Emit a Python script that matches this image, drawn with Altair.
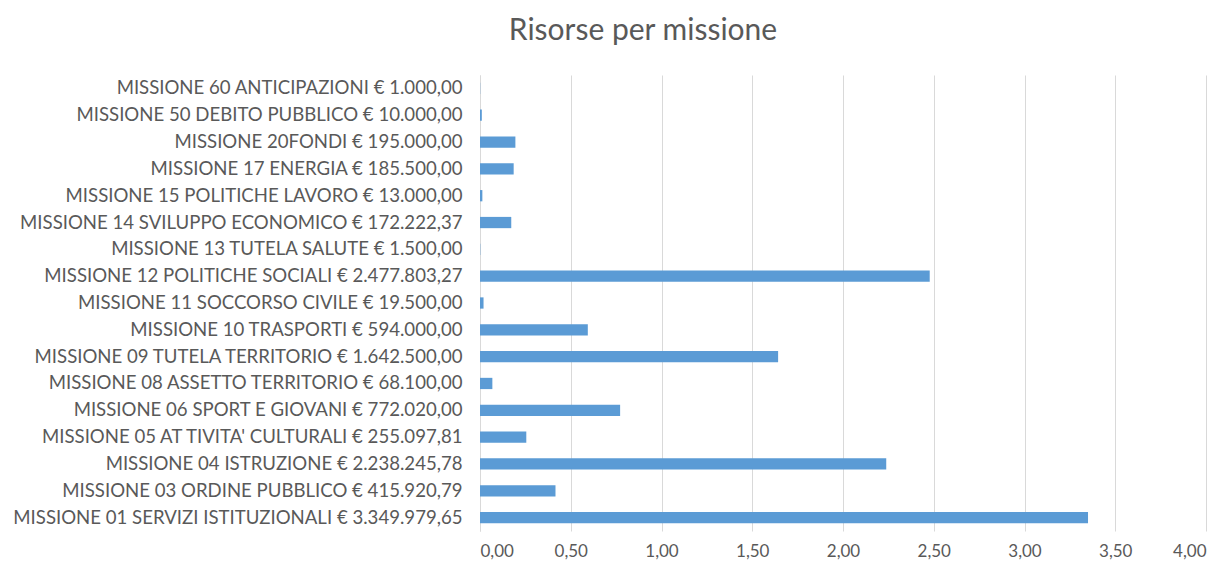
import altair as alt
import pandas as pd

categories = [
    "MISSIONE 60 ANTICIPAZIONI  € 1.000,00",
    "MISSIONE 50 DEBITO PUBBLICO € 10.000,00",
    "MISSIONE 20FONDI € 195.000,00",
    "MISSIONE 17 ENERGIA € 185.500,00",
    "MISSIONE 15 POLITICHE LAVORO € 13.000,00",
    "MISSIONE 14 SVILUPPO ECONOMICO € 172.222,37",
    "MISSIONE 13 TUTELA SALUTE € 1.500,00",
    "MISSIONE 12 POLITICHE SOCIALI € 2.477.803,27",
    "MISSIONE 11 SOCCORSO CIVILE € 19.500,00",
    "MISSIONE 10 TRASPORTI € 594.000,00",
    "MISSIONE 09 TUTELA TERRITORIO € 1.642.500,00",
    "MISSIONE 08 ASSETTO TERRITORIO € 68.100,00",
    "MISSIONE 06 SPORT E GIOVANI € 772.020,00",
    "MISSIONE 05 AT TIVITA' CULTURALI € 255.097,81",
    "MISSIONE 04 ISTRUZIONE € 2.238.245,78",
    "MISSIONE 03 ORDINE PUBBLICO € 415.920,79",
    "MISSIONE 01 SERVIZI ISTITUZIONALI € 3.349.979,65",
]
values = [
    0.001, 0.010, 0.195, 0.1855, 0.013, 0.17222237, 0.0015, 2.47780327,
    0.0195, 0.594, 1.6425, 0.0681, 0.77202, 0.25509781, 2.23824578,
    0.41592079, 3.34997965,
]
x_ticks = [0.0, 0.5, 1.0, 1.5, 2.0, 2.5, 3.0, 3.5, 4.0]

df = pd.DataFrame({"missione": categories, "valore": values})

FONT = "Lato"
GRAY = "#595959"

chart = (
    alt.Chart(df)
    .mark_bar(color="#5b9bd5")
    .encode(
        x=alt.X(
            "valore:Q",
            scale=alt.Scale(domain=[0, 4], nice=False),
            axis=alt.Axis(
                values=x_ticks,
                labelExpr="replace(format(datum.value, '.2f'), '.', ',')",
                title=None,
                grid=True,
                gridColor="#d9d9d9",
                domain=False,
                ticks=False,
                labelFont=FONT,
                labelFontSize=17,
                labelColor=GRAY,
                labelPadding=12,
            ),
        ),
        y=alt.Y(
            "missione:N",
            sort=categories,
            scale=alt.Scale(paddingInner=0.58, paddingOuter=0.29),
            axis=alt.Axis(
                title=None,
                domain=True,
                domainColor="#d9d9d9",
                ticks=False,
                labelFont=FONT,
                labelFontSize=18.6,
                labelColor=GRAY,
                labelPadding=18,
                labelLimit=480,
            ),
        ),
    )
    .properties(
        width=726,
        height=456,
        padding={"left": 472, "top": 67, "right": 10, "bottom": 32},
        autosize=alt.AutoSizeParams(type="none"),
        title=alt.TitleParams(
            "Risorse per missione",
            font=FONT,
            fontSize=30,
            fontWeight="normal",
            color=GRAY,
            anchor="middle",
            dx=-200,
            offset=29,
        ),
    )
    .configure_view(stroke=None)
)

chart.save("out.html", embed_options={"renderer": "svg", "actions": False})
